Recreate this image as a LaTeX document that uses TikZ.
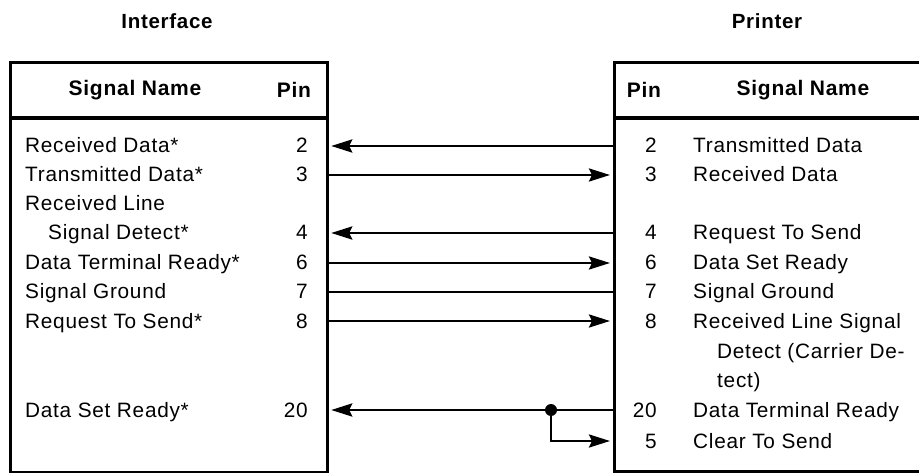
\documentclass[tikz,border=0pt]{standalone}
\usepackage{fontspec}
\setmainfont{Liberation Sans}[LetterSpace=3.5]
\usetikzlibrary{arrows.meta}
\begin{document}
\begin{tikzpicture}[x=1pt,y=-1pt,
  frame/.style={draw,line width=3.2pt,inner sep=0pt,anchor=north west},
  txt/.style={inner sep=0pt,font=\fontsize{20.8}{24}\selectfont},
  hdr/.style={inner sep=0pt,font=\fontsize{20.5}{24}\selectfont\bfseries},
  colhdr/.style={inner sep=0pt,font=\fontsize{21}{24}\selectfont\bfseries},
  lname/.style={txt,anchor=base west},
  lpin/.style={txt,anchor=base east},
  wire/.style={line width=2.8pt},
  tip/.style={-{Stealth[length=21pt,width=13pt,inset=3pt]}}
]
\useasboundingbox (0,0) rectangle (919,473);
% boxes
\node[frame,minimum width=317pt,minimum height=410pt] (ibox) at (9,61) {};
\node[frame,minimum width=330pt,minimum height=409pt] (pbox) at (613,61) {};
\draw[line width=3.2pt] (ibox.west |- 0,118) -- (ibox.east |- 0,118);
\draw[line width=3.2pt] (pbox.west |- 0,118) -- (pbox.east |- 0,118);
% titles
\node[hdr] (tif) at (167,21) {Interface};
\node[hdr] (tpr) at (767,21) {Printer};
\node[colhdr] (hsn1) at (135,90) {Signal Name};
\node[colhdr] (hp1) at (294,90) {Pin};
\node[colhdr] (hp2) at (644,90) {Pin};
\node[colhdr] (hsn2) at (803,90) {Signal Name};
% left rows
\node[lname] (ln2) at (25,153) {Received Data*};
\node[lpin] (lp2) at (308,153) {2};
\node[lname] (ln3) at (25,182) {Transmitted Data*};
\node[lpin] (lp3) at (308,182) {3};
\node[lname] (ln4a) at (25,211) {Received Line};
\node[lname] (ln4b) at (48,240) {Signal Detect*};
\node[lpin] (lp4) at (308,240) {4};
\node[lname] (ln6) at (25,270) {Data Terminal Ready*};
\node[lpin] (lp6) at (308,270) {6};
\node[lname] (ln7) at (25,299) {Signal Ground};
\node[lpin] (lp7) at (308,299) {7};
\node[lname] (ln8) at (25,328) {Request To Send*};
\node[lpin] (lp8) at (308,328) {8};
\node[lname] (ln20) at (25,417) {Data Set Ready*};
\node[lpin] (lp20) at (308,417) {20};
% right rows
\node[lpin] (rp2) at (657,153) {2};
\node[lname] (rn2) at (693,153) {Transmitted Data};
\node[lpin] (rp3) at (657,182) {3};
\node[lname] (rn3) at (693,182) {Received Data};
\node[lpin] (rp4) at (657,240) {4};
\node[lname] (rn4) at (693,240) {Request To Send};
\node[lpin] (rp6) at (657,270) {6};
\node[lname] (rn6) at (693,270) {Data Set Ready};
\node[lpin] (rp7) at (657,299) {7};
\node[lname] (rn7) at (693,299) {Signal Ground};
\node[lpin] (rp8) at (657,328) {8};
\node[lname] (rn8a) at (693,328) {Received Line Signal};
\node[lname] (rn8b) at (717,358) {Detect (Carrier De-};
\node[lname] (rn8c) at (717,387) {tect)};
\node[lpin] (rp20) at (657,417) {20};
\node[lname] (rn20) at (693,417) {Data Terminal Ready};
\node[lpin] (rp5) at (657,448) {5};
\node[lname] (rn5) at (693,448) {Clear To Send};
% connection points
\coordinate (i2) at (ibox.east |- 0,146);
\coordinate (i3) at (ibox.east |- 0,175);
\coordinate (i4) at (ibox.east |- 0,233);
\coordinate (i6) at (ibox.east |- 0,263);
\coordinate (i7) at (ibox.east |- 0,292);
\coordinate (i8) at (ibox.east |- 0,321);
\coordinate (i20) at (ibox.east |- 0,410);
\coordinate (p2) at (pbox.west |- 0,146);
\coordinate (p3) at (pbox.west |- 0,175);
\coordinate (p4) at (pbox.west |- 0,233);
\coordinate (p6) at (pbox.west |- 0,263);
\coordinate (p7) at (pbox.west |- 0,292);
\coordinate (p8) at (pbox.west |- 0,321);
\coordinate (p20) at (pbox.west |- 0,410);
\coordinate (p5) at (pbox.west |- 0,441);
\coordinate (jn) at (551,410);
% wires
\draw[wire,tip,shorten >=2pt] (p2) -- (i2);
\draw[wire,tip,shorten >=3pt] (i3) -- (p3);
\draw[wire,tip,shorten >=2pt] (p4) -- (i4);
\draw[wire,tip,shorten >=3pt] (i6) -- (p6);
\draw[wire] (i7) -- (p7);
\draw[wire,tip,shorten >=3pt] (i8) -- (p8);
\draw[wire,tip,shorten >=2pt] (p20) -- (i20);
\draw[wire,tip,shorten >=3pt] (jn) |- (p5);
\fill (jn) circle (6pt);
\end{tikzpicture}
\end{document}
